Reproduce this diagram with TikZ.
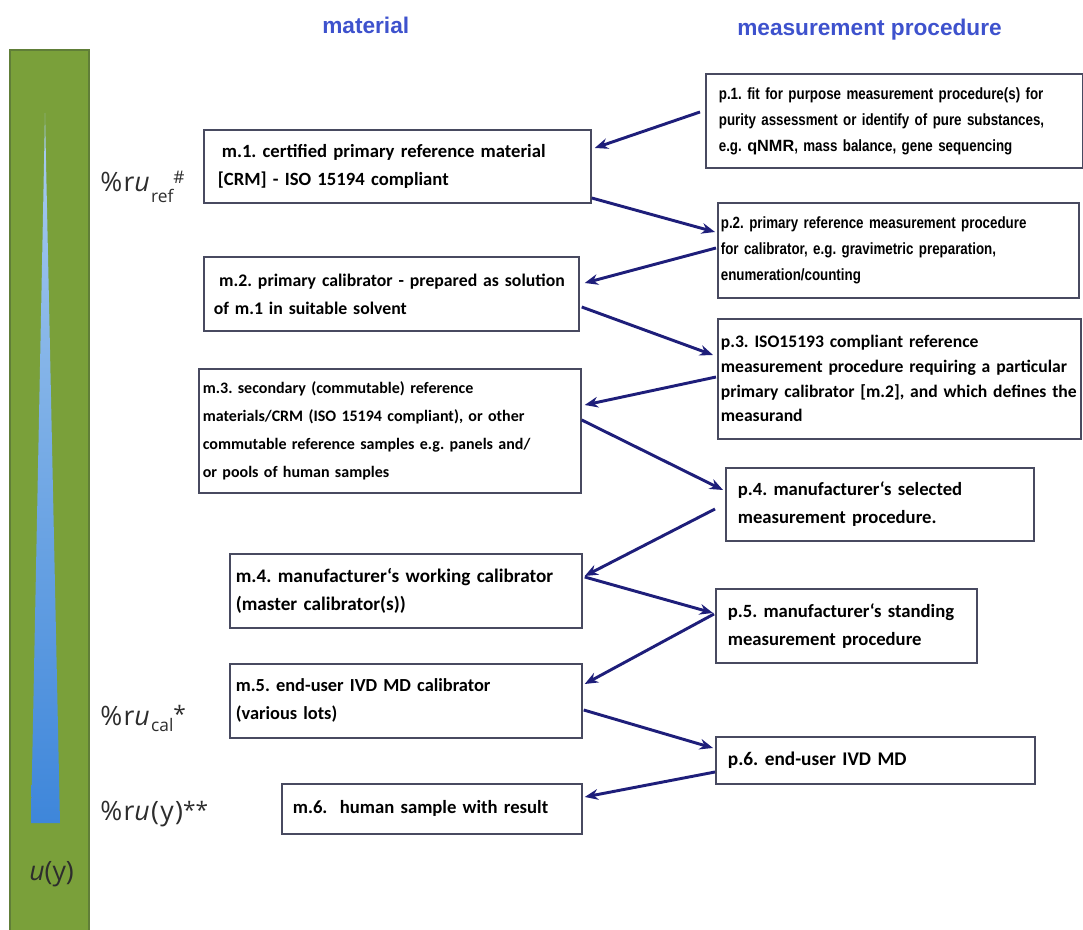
\documentclass[tikz,border=0pt]{standalone}
\usepackage{fontspec}
\setmainfont{Carlito}
\newfontfamily\narrowfont[FakeStretch=0.82]{Liberation Sans}
\newfontfamily\headfont{Liberation Sans}
\newfontfamily\labelfont[LetterSpace=5]{Open Sans}
\newfontfamily\smalllabelfont{Open Sans}
\usetikzlibrary{arrows.meta,calc}
\frenchspacing

\definecolor{barGreen}{RGB}{122,160,58}
\definecolor{barEdge}{RGB}{96,126,56}
\definecolor{triTop}{RGB}{170,205,240}
\definecolor{triBot}{RGB}{62,134,218}
\definecolor{headBlue}{RGB}{62,82,205}
\definecolor{arrowNavy}{RGB}{30,30,122}
\definecolor{boxEdge}{RGB}{72,74,96}
\definecolor{labelGray}{RGB}{45,45,45}

\tikzset{
  % box={width px}{height px}{left padding px}
  box/.style n args={3}{draw=boxEdge, line width=1.3pt, fill=white, anchor=north west,
    inner xsep=#3*0.75pt, inner ysep=0pt,
    minimum width=#1*0.75pt, minimum height=#2*0.75pt,
    text width=#1*0.75pt-#3*1.5pt, align=left,
    execute at begin node={\rightskip=-40pt plus 1fil}},
  mtext/.style={font=\fontsize{#1}{21}\selectfont\bfseries},
  mtext/.default=14,
  ntext/.style={font=\narrowfont\fontsize{12.2}{19.5}\selectfont\bfseries},
  flow/.style={draw=arrowNavy, line width=2.2pt, -{Stealth[length=10pt,width=8pt]}},
  head/.style={font=\headfont\fontsize{17}{20}\selectfont\bfseries, text=headBlue,
    anchor=west, inner sep=0pt},
  ulabel/.style={font=\labelfont\fontsize{20}{22}\selectfont, text=labelGray,
    anchor=base west, inner sep=0pt},
}
\newcommand{\lowtxt}[2]{\raisebox{#1}{\smalllabelfont\fontsize{13}{13}\selectfont #2}}

\begin{document}
\begin{tikzpicture}[x=0.75pt,y=-0.75pt]
\useasboundingbox (0,0) rectangle (1083,930);

% uncertainty bar with the narrowing wedge
\fill[barGreen, draw=barEdge, line width=0.8pt] (10,50) rectangle (89,935);
\shade[top color=triTop, bottom color=triBot] (45,113) -- (60,823) -- (31,823) -- cycle;

% uncertainty labels
\node[ulabel] (uref) at (100,192) {\%r\textit{u}\lowtxt{-8pt}{ref}\lowtxt{6pt}{\#}};
\node[ulabel] (ucal) at (100,725) {\%r\textit{u}\lowtxt{-5pt}{cal}\lowtxt{2pt}{\fontsize{17}{17}\selectfont *}};
\node[ulabel] (uy)   at (100,820) {\%r\textit{u}(y)\lowtxt{1pt}{\fontsize{17}{17}\selectfont **}};
\node[ulabel, font=\smalllabelfont\fontsize{20}{22}\selectfont] (ubar) at (29,880) {\textit{u}(y)};

% column headings
\node[head] (hmat)  at (322,25) {material};
\node[head] (hproc) at (737,30) {measurement procedure};

% material column
\node[box={387}{73}{14}, mtext] (m1) at (203,129)
  {\hspace{3pt}m.1. certified primary reference material\\\mbox{}[CRM] - ISO 15194 compliant};
\node[box={375}{74}{10}, mtext=13.3] (m2) at (203,256)
  {\hspace{4pt}m.2. primary calibrator - prepared as solution\\of m.1 in suitable solvent};
\node[box={382}{124}{4}, font=\fontsize{12}{21}\selectfont\bfseries] (m3) at (198,368)
  {m.3. secondary (commutable) reference\\materials/CRM (ISO 15194 compliant), or other\\commutable reference samples e.g. panels and/\\or pools of human samples};
\node[box={352}{74}{6}, mtext=14.4] (m4) at (229,553)
  {m.4. manufacturer‘s working calibrator\\(master calibrator(s))};
\node[box={352}{74}{6}, mtext=13.8] (m5) at (229,663)
  {m.5. end-user IVD MD calibrator\\(various lots)};
\node[box={300}{50}{11}, mtext] (m6) at (281,783)
  {m.6.\ \ human sample with result};

% measurement procedure column
\node[box={377}{94}{13}, ntext] (p1) at (705,73)
  {p.1. fit for purpose measurement procedure(s) for\\purity assessment or identify of pure substances,\\e.g. {\headfont\bfseries qNMR}, mass balance, gene sequencing};
\node[box={361}{95}{3}, ntext] (p2) at (717,202)
  {p.2. primary reference measurement procedure\\for calibrator, e.g. gravimetric preparation,\\enumeration/counting};
\node[box={363}{120}{3}, font=\fontsize{13.2}{18.5}\selectfont\bfseries] (p3) at (717,318)
  {p.3. ISO15193 compliant reference\\measurement procedure requiring a particular\\primary calibrator [m.2], and which defines the\\measurand};
\node[box={308}{73}{12}, mtext] (p4) at (725,467)
  {p.4. manufacturer‘s selected\\measurement procedure.};
\node[box={261}{74}{12}, mtext] (p5) at (715,588)
  {p.5. manufacturer‘s standing\\measurement procedure};
\node[box={319}{47}{12}, mtext=14.5] (p6) at (715,736)
  {p.6. end-user IVD MD};

% traceability chain
\draw[flow] ($(p1.north west)+(-5,39)$) -- ($(m1.north east)+(3,19)$);
\draw[flow] ($(m1.north east)+(0,69)$)  -- ($(p2.north west)+(-2,30)$);
\draw[flow] ($(p2.north west)+(-1,46)$) -- ($(m2.north east)+(5,27)$);
\draw[flow] ($(m2.north east)+(2,51)$)  -- ($(p3.north west)+(-4,37)$);
\draw[flow] ($(p3.north west)+(-1,59)$) -- ($(m3.north east)+(3,37)$);
\draw[flow] ($(m3.north east)+(0,52)$)  -- ($(p4.north west)+(-2,23)$);
\draw[flow] ($(p4.north west)+(-10,42)$) -- ($(m4.north east)+(2,23)$);
\draw[flow] ($(m4.north east)+(2,24)$)  -- ($(p5.north west)+(-2,25)$);
\draw[flow] ($(p5.north west)+(-1,26)$) -- ($(m5.north east)+(2,21)$);
\draw[flow] ($(m5.north east)+(1,47)$)  -- ($(p6.north west)+(-2,12)$);
\draw[flow] ($(p6.north west)+(0,36)$)  -- ($(m6.north east)+(2,14)$);
\end{tikzpicture}
\end{document}
